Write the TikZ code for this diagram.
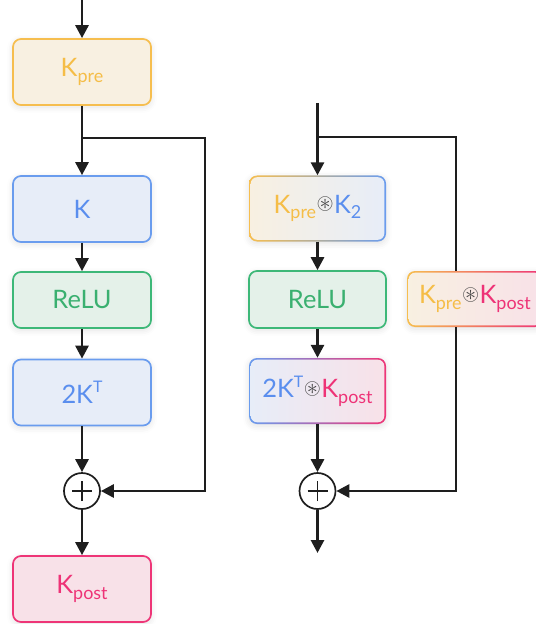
\documentclass[tikz,border=0pt]{standalone}
\usepackage{amssymb}
\usepackage{fontspec}
\setmainfont{Lato}
\usetikzlibrary{arrows.meta, shadows.blur}

\definecolor{yelline}{HTML}{F6BE4F}
\definecolor{yelfill}{HTML}{F8F0E1}
\definecolor{yeltext}{HTML}{F5BD47}
\definecolor{blueline}{HTML}{6A9CEE}
\definecolor{bluefill}{HTML}{E7EDF8}
\definecolor{bluetext}{HTML}{5A8EEE}
\definecolor{greenline}{HTML}{3DB878}
\definecolor{greenfill}{HTML}{E4F1E9}
\definecolor{greentext}{HTML}{3AB070}
\definecolor{pinkline}{HTML}{EE3577}
\definecolor{pinkfill}{HTML}{F8E1E8}
\definecolor{pinktext}{HTML}{EE3377}
\definecolor{convgray}{HTML}{444444}
\definecolor{wirecol}{HTML}{1E1E1E}

\newcommand\lowsub[1]{\raisebox{-0.22em}{\fontsize{18}{19}\selectfont #1}}
\newcommand\highsup[1]{\raisebox{0.42em}{\fontsize{16}{17}\selectfont #1}}
\newcommand\conv{\hspace{0.5bp}\raisebox{3.4bp}{\color{convgray}\fontsize{22}{22}\selectfont$\circledast$}\hspace{0.5bp}}
\newcommand\Kpre{{\color{yeltext}K\lowsub{pre}}}
\newcommand\Kpost{{\color{pinktext}K\lowsub{post}}}
\newcommand\Ktwo{{\color{bluetext}K\lowsub{2}}}
\newcommand\Ktr{{\color{bluetext}2K\highsup{T}}}

\begin{document}
\begin{tikzpicture}[x=1bp, y=-1bp,
    every node/.style={font=\fontsize{25.5}{30}\selectfont},
    box/.style n args={3}{draw=#1, fill=#2, text=#3, line width=1.7bp,
        rounded corners=8bp, minimum width=138bp, minimum height=66bp, inner sep=0pt,
        blur shadow={shadow xshift=0bp, shadow yshift=-2bp, shadow blur radius=6bp, shadow opacity=12}},
    gradbox/.style n args={4}{left color=#1, right color=#2,
        rounded corners=8bp, minimum width=137bp, minimum height=66bp, inner sep=0pt,
        blur shadow={shadow xshift=0bp, shadow yshift=-2bp, shadow blur radius=6bp, shadow opacity=12},
        path picture={\shade[left color=#3, right color=#4, rounded corners=6.5bp]
            ([shift={(1.7bp,1.7bp)}]path picture bounding box.south west) rectangle
            ([shift={(-1.7bp,-1.7bp)}]path picture bounding box.north east);}},
    sumnode/.style={circle, draw=wirecol, fill=white, line width=1.7bp, minimum size=36bp, inner sep=0pt,
        path picture={\draw[line width=1.4bp, wirecol]
            ([xshift=-10bp]path picture bounding box.center) -- ([xshift=10bp]path picture bounding box.center)
            ([yshift=-10bp]path picture bounding box.center) -- ([yshift=10bp]path picture bounding box.center);}},
    wire/.style={draw=wirecol, line width=2.8bp},
    flow/.style={wire, -{Triangle[length=13bp, width=13bp]}}]
    \useasboundingbox (0,0) rectangle (536,624);

    % Linke Spalte
    \node[box={yelline}{yelfill}{yeltext}] (kpre) at (82,72) {\Kpre};
    \node[box={blueline}{bluefill}{bluetext}] (kbase) at (82,209) {K};
    \node[box={greenline}{greenfill}{greentext}, minimum height=56bp] (relua) at (82,300) {ReLU};
    \node[box={blueline}{bluefill}{bluetext}] (ktrans) at (82,392.5) {\Ktr};
    \node[sumnode] (plusa) at (82,491) {};
    \node[box={pinkline}{pinkfill}{pinktext}] (kpost) at (82,589) {\Kpost};

    \coordinate (ina) at (82,0);
    \coordinate (bra) at (82,138);
    \coordinate (corna) at (205,138);

    \draw[flow] (ina) -- (kpre);
    \draw[flow] (kpre) -- (kbase);
    \draw[flow] (kbase) -- (relua);
    \draw[flow] (relua) -- (ktrans);
    \draw[flow] (ktrans) -- (plusa);
    \draw[flow] (plusa) -- (kpost);
    \draw[flow] (bra) -- (corna) |- (plusa);

    % Rechte Spalte
    \node[gradbox={yelline}{blueline}{yelfill}{bluefill}] (kfirst) at (317.5,208.5) {\Kpre\conv\Ktwo};
    \node[box={greenline}{greenfill}{greentext}, minimum width=137bp, minimum height=57bp] (relub) at (317.5,299.5) {ReLU};
    \node[gradbox={blueline}{pinkline}{bluefill}{pinkfill}] (klast) at (317.5,391) {\Ktr\conv\Kpost};
    \node[sumnode] (plusb) at (317.5,491) {};
    \node[gradbox={yelline}{pinkline}{yelfill}{pinkfill}, minimum width=136bp, minimum height=56bp] (kskip) at (475,299) {\Kpre\conv\Kpost};

    \coordinate (inb) at (317.5,103);
    \coordinate (brb) at (317.5,137);
    \coordinate (cornb) at (456,137);
    \coordinate (outb) at (317.5,553);

    \draw[flow] (inb) -- (kfirst);
    \draw[flow] (kfirst) -- (relub);
    \draw[flow] (relub) -- (klast);
    \draw[flow] (klast) -- (plusb);
    \draw[flow] (plusb) -- (outb);
    \draw[wire] (brb) -- (cornb) -- (cornb |- kskip.north);
    \draw[flow] (cornb |- kskip.south) |- (plusb);
\end{tikzpicture}
\end{document}
